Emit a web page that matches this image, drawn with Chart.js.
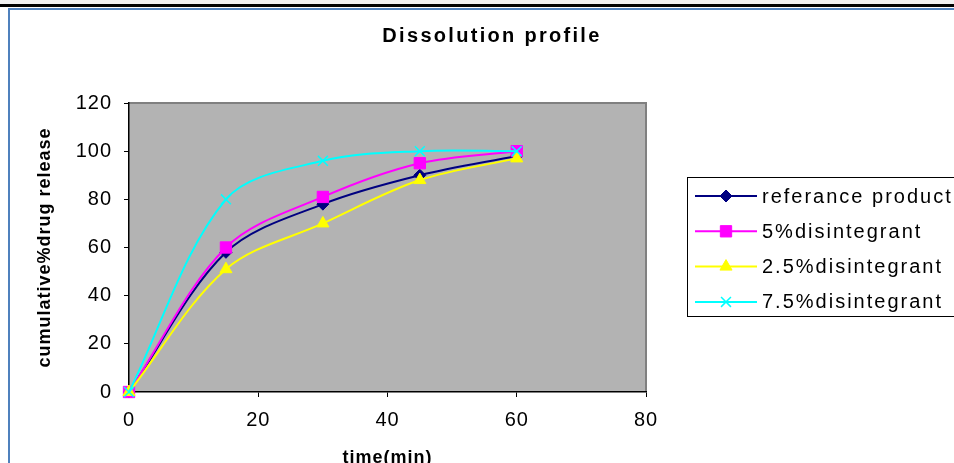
<!DOCTYPE html>
<html>
<head>
<meta charset="utf-8">
<script src="https://cdn.jsdelivr.net/npm/chart.js@4/dist/chart.umd.min.js"></script>
<style>
    html, body { margin: 0; padding: 0; }
    body { width: 954px; height: 463px; overflow: hidden; position: relative; background: #fff; }
    .strip { position: absolute; left: 0; top: 0; width: 954px; height: 4px; background: #f0f0f0; }
    .rule { position: absolute; left: 0; top: 4px; width: 954px; height: 3px; background: #000; }
    .frameTop { position: absolute; left: 8px; top: 8px; width: 946px; height: 2px; background: #4f81bd; }
    .frameLeft { position: absolute; left: 8px; top: 8px; width: 2px; height: 455px; background: #4f81bd; }
    #chart { position: absolute; left: 0; top: 0; }
</style>
</head>
<body>
<div class="strip"></div>
<div class="rule"></div>
<div class="frameTop"></div>
<div class="frameLeft"></div>
<canvas id="chart" width="1000" height="480"></canvas>
<script>
// Dissolution profile data (time in min, cumulative % drug release)
const times = [0, 15, 30, 45, 60];
const referenceProduct = [0, 58, 78, 90, 98];
const disintegrant5 = [0, 60, 81, 95, 100];
const disintegrant25 = [0, 51, 70, 88, 97];
const disintegrant75 = [0, 80, 96, 100, 100];

const seriesLabels = ['referance product', '5%disintegrant', '2.5%disintegrant', '7.5%disintegrant'];
const seriesColors = ['#000080', '#ff00ff', '#ffff00', '#00ffff'];
const seriesMarkers = ['rectRot', 'rect', 'triangle', 'crossRot'];
const seriesRadius = [6, 8, 7, 7];

const xTicks = [0, 20, 40, 60, 80];
const yTicks = [0, 20, 40, 60, 80, 100, 120];

const FONT = "Arial, 'Liberation Sans', sans-serif";

function toPoints(values) {
    return times.map((t, i) => ({ x: t, y: values[i] }));
}

const allValues = [referenceProduct, disintegrant5, disintegrant25, disintegrant75];

const datasets = allValues.map((vals, i) => ({
    label: seriesLabels[i],
    data: toPoints(vals),
    borderColor: seriesColors[i],
    backgroundColor: seriesColors[i],
    borderWidth: 2,
    pointStyle: seriesMarkers[i],
    pointRadius: seriesRadius[i],
    pointBorderWidth: i === 3 ? 1.5 : 1,
    pointBorderColor: seriesColors[i],
    pointBackgroundColor: seriesColors[i],
    tension: 0.33,
    clip: false,
    order: 4 - i
}));

// grey plot area with darker top / right edge
const plotBackground = {
    id: 'plotBackground',
    beforeLayout(chart) {
        chart.ctx.letterSpacing = '1px';
    },
    beforeDraw(chart) {
        const { ctx, chartArea: a } = chart;
        ctx.letterSpacing = '1px';
        ctx.save();
        ctx.fillStyle = '#b3b3b3';
        ctx.fillRect(a.left, a.top, a.right - a.left, a.bottom - a.top);
        ctx.strokeStyle = '#808080';
        ctx.lineWidth = 2;
        ctx.beginPath();
        ctx.moveTo(a.left, a.top);
        ctx.lineTo(a.right, a.top);
        ctx.lineTo(a.right, a.bottom);
        ctx.stroke();
        ctx.restore();
    }
};

// title and boxed legend, drawn like the spreadsheet chart
const titleAndLegend = {
    id: 'titleAndLegend',
    afterDraw(chart) {
        const ctx = chart.ctx;
        ctx.save();
        ctx.letterSpacing = '2.3px';
        ctx.fillStyle = '#000';
        ctx.font = 'bold 20px ' + FONT;
        ctx.textAlign = 'center';
        ctx.textBaseline = 'middle';
        ctx.fillText('Dissolution profile', 492, 36);

        // legend box
        ctx.letterSpacing = '2px';
        ctx.strokeStyle = '#000';
        ctx.lineWidth = 1;
        ctx.strokeRect(687.5, 177.5, 400, 139);
        ctx.font = '20px ' + FONT;
        ctx.textAlign = 'left';
        chart.data.datasets.forEach((ds, i) => {
            const y = 196 + i * 35.3;
            ctx.strokeStyle = ds.borderColor;
            ctx.lineWidth = 2;
            ctx.beginPath();
            ctx.moveTo(695, y);
            ctx.lineTo(757, y);
            ctx.stroke();
            ctx.fillStyle = ds.pointBackgroundColor;
            ctx.strokeStyle = ds.pointBorderColor;
            ctx.lineWidth = ds.pointBorderWidth;
            Chart.helpers.drawPoint(ctx, {
                pointStyle: ds.pointStyle,
                radius: ds.pointRadius,
                rotation: 0,
                borderWidth: ds.pointBorderWidth
            }, 726, y);
            ctx.fillStyle = '#000';
            ctx.fillText(ds.label, 762, y + 1);
        });
        ctx.restore();
    }
};

new Chart(document.getElementById('chart'), {
    type: 'line',
    data: { datasets: datasets },
    options: {
        responsive: false,
        animation: false,
        layout: { padding: { top: 103, right: 354, left: 0, bottom: 0 } },
        plugins: {
            legend: { display: false },
            title: { display: false },
            tooltip: { enabled: false }
        },
        scales: {
            x: {
                type: 'linear',
                min: 0,
                max: 80,
                afterBuildTicks: (axis) => { axis.ticks = xTicks.map(v => ({ value: v })); },
                afterFit: (axis) => { axis.height = 88; },
                ticks: { color: '#000', padding: 11, font: { family: FONT, size: 20 } },
                grid: { drawOnChartArea: false, drawTicks: true, tickLength: 5, color: '#000' },
                border: { display: true, color: '#000', width: 1.5 },
                title: {
                    display: true,
                    text: 'time(min)',
                    color: '#000',
                    font: { family: FONT, size: 18, weight: 'bold' },
                    padding: { top: 0, bottom: 11 }
                }
            },
            y: {
                min: 0,
                max: 120,
                afterBuildTicks: (axis) => { axis.ticks = yTicks.map(v => ({ value: v })); },
                afterFit: (axis) => { axis.width = 129; },
                ticks: { color: '#000', padding: 12, font: { family: FONT, size: 20 } },
                grid: { drawOnChartArea: false, drawTicks: true, tickLength: 5, color: '#000' },
                border: { display: true, color: '#000', width: 1.5 },
                title: {
                    display: true,
                    text: 'cumulative%drug release',
                    color: '#000',
                    font: { family: FONT, size: 18, weight: 'bold' },
                    padding: { top: 34, bottom: 0 }
                }
            }
        }
    },
    plugins: [plotBackground, titleAndLegend]
});
</script>
</body>
</html>
